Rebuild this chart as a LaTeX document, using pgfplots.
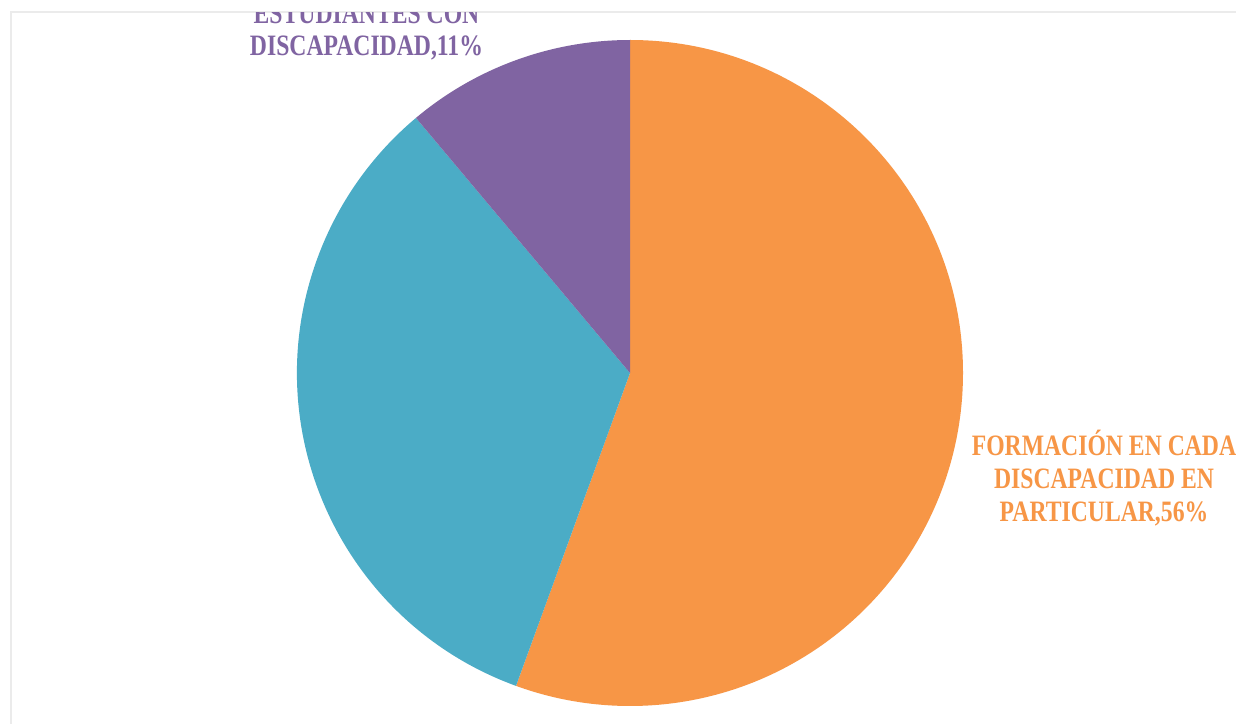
\documentclass[border=0pt]{standalone}
\usepackage{fontspec}
\usepackage{pgfplots}
\usepackage{pgfplotstable}
\pgfplotsset{compat=1.18}
\newfontfamily\labfont[FakeStretch=0.8]{Liberation Serif}
\definecolor{orangeP}{HTML}{F79646}
\definecolor{blueP}{HTML}{4BACC6}
\definecolor{purpleP}{HTML}{8064A2}
\definecolor{frameG}{HTML}{EBEBEB}

\pgfplotstableread{
label value color
Formacion 55.56 orangeP
Otros 33.33 blueP
Estudiantes 11.11 purpleP
}\piedata

\begin{document}
\begin{tikzpicture}
\useasboundingbox (0,0) rectangle (618pt,361.5pt);
\fill[white] (0,0) rectangle (618pt,361.5pt);
\draw[frameG, line width=1pt] (5.5pt,-2pt) -- (5.5pt,355.5pt) -- (620pt,355.5pt);
\clip (6pt,0) rectangle (618pt,355pt);
\begin{axis}[
  at={(0pt,0pt)}, anchor=south west,
  x=166.5pt, y=166.5pt,
  xmin=-1.89189, xmax=1.81982,
  ymin=-1.05105, ymax=1.12012,
  hide axis, clip=false,
]
\pgfplotstablegetrowsof{\piedata}
\pgfmathtruncatemacro\nrows{\pgfplotsretval-1}
\def\angA{90}
\pgfplotsforeachungrouped \i in {0,...,\nrows}{
  \pgfplotstablegetelem{\i}{value}\of\piedata \let\v\pgfplotsretval
  \pgfplotstablegetelem{\i}{color}\of\piedata \let\c\pgfplotsretval
  \pgfmathsetmacro\angB{\angA-3.6*\v}
  \edef\temp{\noexpand\fill[\c] (axis cs:0,0) -- ++(\angA:166.5pt) arc[start angle=\angA, end angle=\angB, radius=166.5pt] -- cycle;}
  \temp
  \global\let\angA\angB
}
\node[align=center, text=purpleP, font=\labfont\bfseries\fontsize{14.8}{16}\selectfont]
  at (axis cs:-0.7913,1.0255) {ESTUDIANTES CON\\DISCAPACIDAD,11\%};
\node[align=center, text=orangeP, font=\labfont\bfseries\fontsize{14.8}{16.5}\selectfont]
  at (axis cs:1.4234,-0.3153) {FORMACIÓN EN CADA\\DISCAPACIDAD EN\\PARTICULAR,56\%};
\end{axis}
\end{tikzpicture}
\end{document}
